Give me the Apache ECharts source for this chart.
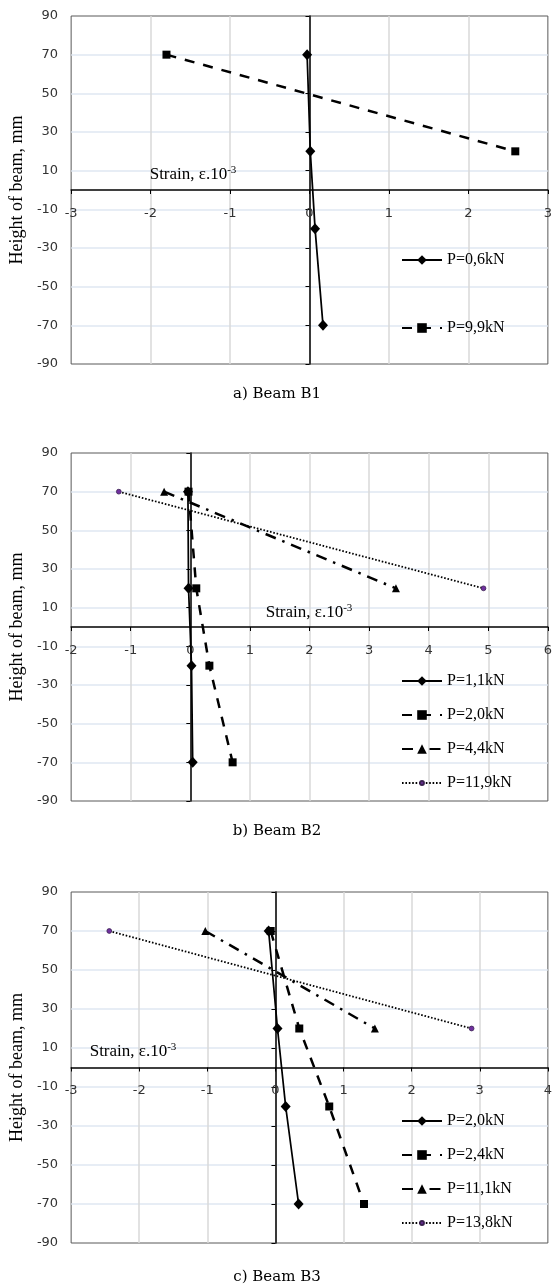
<!DOCTYPE html>
<html><head><meta charset="utf-8">
<script src="https://cdn.jsdelivr.net/npm/echarts@6/dist/echarts.min.js"></script>
<style>html,body{margin:0;padding:0;background:#fff}#c{width:555px;height:1288px}</style>
</head><body><div id="c"></div>
<script>
// ---- data ----
const heights = [70, 20, -20, -70];
const heightsTop = [70, 20];
// Beam B1
const b1Names = ['P=0,6kN', 'P=9,9kN'];
const b1_P06 = [-0.03, 0.01, 0.07, 0.17];
const b1_P99 = [-1.80, 2.59];
// Beam B2
const b2Names = ['P=1,1kN', 'P=2,0kN', 'P=4,4kN', 'P=11,9kN'];
const b2_P11 = [-0.04, -0.03, 0.02, 0.04];
const b2_P20 = [-0.03, 0.10, 0.32, 0.71];
const b2_P44 = [-0.44, 3.45];
const b2_P119 = [-1.20, 4.92];
// Beam B3
const b3Names = ['P=2,0kN', 'P=2,4kN', 'P=11,1kN', 'P=13,8kN'];
const b3_P20 = [-0.10, 0.03, 0.15, 0.34];
const b3_P24 = [-0.07, 0.35, 0.79, 1.30];
const b3_P111 = [-1.03, 1.46];
const b3_P138 = [-2.44, 2.88];
// axes / text
const yMin = -90, yMax = 90, yStep = 20;
const xRanges = [[-3, 3], [-2, 6], [-3, 4]];
const captions = ['a) Beam B1', 'b) Beam B2', 'c) Beam B3'];
const yTitle = 'Height of beam, mm';
const strainText = 'Strain, ε.10';
const strainExp = '-3';

// ---- layout ----
const grids = [
  {left: 71, top: 16, width: 481, height: 348},
  {left: 69, top: 453, width: 485, height: 348},
  {left: 69, top: 892, width: 485, height: 351}
];
const legendPos = [
  {left: 401, top: 252, gap: 52},
  {left: 401, top: 673, gap: 18},
  {left: 401, top: 1113, gap: 18}
];
const strainPos = [[193, 175], [309, 613], [133, 1052]];
const captionY = [394, 831, 1277];

const smallDot = 'path://M0,0M10,10M3,5A2,2,0,1,0,7,5A2,2,0,1,0,3,5Z';
const styles = {
  solidDiamond: {symbol: 'diamond', symbolSize: [10, 11], lineStyle: {type: 'solid', width: 1.75}},
  dashSquare: {symbol: 'rect', symbolSize: 8, lineStyle: {type: [10, 9], width: 2.5}},
  dashDotTri: {symbol: 'triangle', symbolSize: 8, lineStyle: {type: [11, 7, 2.5, 7], width: 2.5}},
  dotCircle: {symbol: smallDot, symbolSize: 12, lineStyle: {type: [1.6, 1.8], width: 1.8}}
};

function mk(gi, prefix, name, xs, ys, st, markerColor) {
  const s = styles[st];
  return {
    type: 'line', name: prefix + '|' + name,
    xAxisIndex: gi, yAxisIndex: gi * 2,
    data: xs.map((x, k) => [x, ys[k]]),
    symbol: s.symbol, symbolSize: s.symbolSize, showSymbol: true,
    lineStyle: Object.assign({color: '#000', cap: 'butt'}, s.lineStyle),
    itemStyle: {color: markerColor || '#000', borderColor: markerColor ? '#3a2050' : '#000', borderWidth: markerColor ? 0.8 : 0},
    emphasis: {disabled: true}, animation: false, z: 5
  };
}

const series = [
  mk(0, 'B1', b1Names[0], b1_P06, heights, 'solidDiamond'),
  mk(0, 'B1', b1Names[1], b1_P99, heightsTop, 'dashSquare'),
  mk(1, 'B2', b2Names[0], b2_P11, heights, 'solidDiamond'),
  mk(1, 'B2', b2Names[1], b2_P20, heights, 'dashSquare'),
  mk(1, 'B2', b2Names[2], b2_P44, heightsTop, 'dashDotTri'),
  mk(1, 'B2', b2Names[3], b2_P119, heightsTop, 'dotCircle', '#7030a0'),
  mk(2, 'B3', b3Names[0], b3_P20, heights, 'solidDiamond'),
  mk(2, 'B3', b3Names[1], b3_P24, heights, 'dashSquare'),
  mk(2, 'B3', b3Names[2], b3_P111, heightsTop, 'dashDotTri'),
  mk(2, 'B3', b3Names[3], b3_P138, heightsTop, 'dotCircle', '#7030a0')
];

const tickFont = {fontFamily: 'DejaVu Sans', fontSize: 13, color: '#333'};
const xAxis = [], yAxis = [];
grids.forEach((g, i) => {
  // x axis drawn at the y = 0 line (offset up from the grid bottom)
  const zeroFromBottom = g.height * (0 - yMin) / (yMax - yMin);
  xAxis.push({
    gridIndex: i, type: 'value', min: xRanges[i][0], max: xRanges[i][1], interval: 1,
    position: 'bottom', offset: -zeroFromBottom,
    axisLine: {show: true, onZero: false, lineStyle: {color: '#000', width: 1.5}},
    axisTick: {show: true, inside: false, length: 4, lineStyle: {color: '#000', width: 1}},
    axisLabel: Object.assign({margin: 17, showMinLabel: true, showMaxLabel: true}, tickFont),
    splitLine: {show: true, showMinLine: false, showMaxLine: false, lineStyle: {color: '#d9d9d9', width: 1.5}}
  });
  yAxis.push({
    gridIndex: i, type: 'value', min: yMin, max: yMax, interval: yStep, position: 'left',
    axisLine: {show: false, onZero: false},
    axisTick: {show: false},
    axisLabel: Object.assign({margin: 13}, tickFont),
    splitLine: {show: true, showMinLine: false, showMaxLine: false, lineStyle: {color: '#dfe7f2', width: 1.5}},
    name: yTitle, nameLocation: 'middle', nameRotate: 90, nameGap: 43,
    nameTextStyle: {fontFamily: 'Liberation Serif', fontSize: 18, color: '#000'}
  });
  yAxis.push({
    gridIndex: i, type: 'value', min: yMin, max: yMax, interval: yStep, position: 'left',
    axisLine: {show: true, onZero: true, lineStyle: {color: '#000', width: 1.5}},
    axisTick: {show: true, inside: false, length: 4, lineStyle: {color: '#000', width: 1}},
    axisLabel: {show: false},
    splitLine: {show: false}
  });
});

const legendData = [
  b1Names.map(n => 'B1|' + n),
  b2Names.map(n => 'B2|' + n),
  b3Names.map(n => 'B3|' + n)
];
const legend = legendPos.map((p, i) => ({
  data: legendData[i], orient: 'vertical', left: p.left, top: p.top, itemGap: p.gap,
  padding: 0, itemWidth: 40, itemHeight: 12, selectedMode: false,
  formatter: n => n.split('|')[1],
  textStyle: {fontFamily: 'Liberation Serif', fontSize: 16, color: '#000'}
}));

const graphic = [];
strainPos.forEach(p => {
  graphic.push({
    type: 'text', x: p[0], y: p[1], z: 10,
    style: {
      text: '{a|' + strainText + '}{b|' + strainExp + '}',
      align: 'center', verticalAlign: 'middle',
      rich: {
        a: {fontFamily: 'Liberation Serif', fontSize: 17, fill: '#000', lineHeight: 20},
        b: {fontFamily: 'Liberation Serif', fontSize: 11, fill: '#000', verticalAlign: 'top', lineHeight: 20, padding: [0, 0, 6, 0]}
      }
    }
  });
});
captions.forEach((c, i) => {
  graphic.push({
    type: 'text', x: 277, y: captionY[i],
    style: {text: c, align: 'center', verticalAlign: 'middle', font: '15px "DejaVu Serif"', fill: '#000'}
  });
});

const chart = echarts.init(document.getElementById('c'), null, {renderer: 'canvas'});
chart.setOption({
  backgroundColor: '#fff',
  animation: false,
  grid: grids.map(g => Object.assign({show: true, borderColor: '#595959', borderWidth: 1, backgroundColor: 'transparent', containLabel: false}, g)),
  xAxis, yAxis, legend, series, graphic
});
</script></body></html>
